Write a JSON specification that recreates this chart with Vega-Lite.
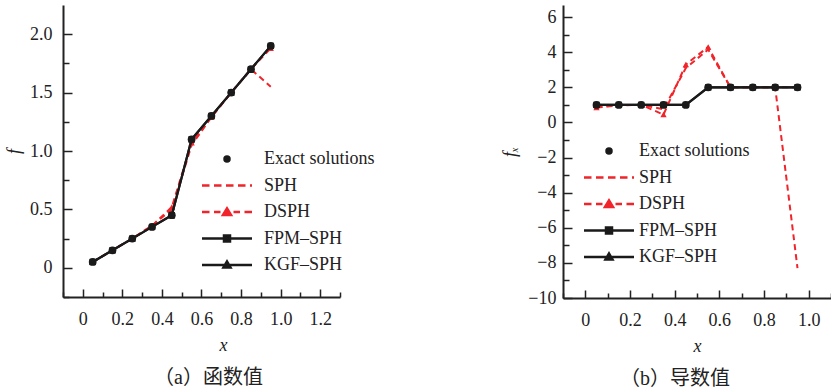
{
  "$schema": "https://vega.github.io/schema/vega-lite/v6.json",
  "padding": {"left": 5, "top": 5, "right": 0, "bottom": 0},
  "background": "white",
  "config": {
    "view": {"stroke": null},
    "axis": {
      "grid": true,
      "gridColor": "#222",
      "gridWidth": 1.5,
      "gridOpacity": 1,
      "ticks": true,
      "tickSize": -7,
      "tickOpacity": 0,
      "domainColor": "#222",
      "domainWidth": 2,
      "labelFont": "Liberation Serif, DejaVu Serif, serif",
      "labelFontSize": 18,
      "labelColor": "#222",
      "titleFont": "Liberation Serif, DejaVu Serif, serif",
      "titleFontSize": 18,
      "titleFontStyle": "italic",
      "titleFontWeight": "normal",
      "titleColor": "#222",
      "labelOverlap": false,
      "labelFlush": false
    },
    "legend": {
      "labelFont": "Liberation Serif, DejaVu Serif, serif",
      "labelFontSize": 18,
      "labelColor": "#222",
      "symbolStrokeWidth": 2.5,
      "symbolOpacity": 1,
      "symbolSize": 100,
      "padding": 0,
      "rowPadding": 8.5,
      "labelOffset": 30
    },
    "title": {"font": "Liberation Serif, Noto Sans CJK SC, serif", "fontSize": 20, "fontWeight": "normal", "color": "#222"}
  },
  "resolve": {
    "scale": {"fill": "independent", "stroke": "independent", "shape": "independent"},
    "legend": {"fill": "independent", "stroke": "independent", "shape": "independent"}
  },
  "data": {"values": [
    {"panel": "a", "series": "Exact solutions", "x": 0.05, "y": 0.05},
    {"panel": "a", "series": "Exact solutions", "x": 0.15, "y": 0.15},
    {"panel": "a", "series": "Exact solutions", "x": 0.25, "y": 0.25},
    {"panel": "a", "series": "Exact solutions", "x": 0.35, "y": 0.35},
    {"panel": "a", "series": "Exact solutions", "x": 0.45, "y": 0.45},
    {"panel": "a", "series": "Exact solutions", "x": 0.55, "y": 1.1},
    {"panel": "a", "series": "Exact solutions", "x": 0.65, "y": 1.3},
    {"panel": "a", "series": "Exact solutions", "x": 0.75, "y": 1.5},
    {"panel": "a", "series": "Exact solutions", "x": 0.85, "y": 1.7},
    {"panel": "a", "series": "Exact solutions", "x": 0.95, "y": 1.9},
    {"panel": "a", "series": "SPH", "x": 0.05, "y": 0.05},
    {"panel": "a", "series": "SPH", "x": 0.15, "y": 0.15},
    {"panel": "a", "series": "SPH", "x": 0.25, "y": 0.25},
    {"panel": "a", "series": "SPH", "x": 0.35, "y": 0.36},
    {"panel": "a", "series": "SPH", "x": 0.45, "y": 0.5},
    {"panel": "a", "series": "SPH", "x": 0.55, "y": 1.05},
    {"panel": "a", "series": "SPH", "x": 0.65, "y": 1.29},
    {"panel": "a", "series": "SPH", "x": 0.75, "y": 1.5},
    {"panel": "a", "series": "SPH", "x": 0.85, "y": 1.7},
    {"panel": "a", "series": "SPH", "x": 0.95, "y": 1.55},
    {"panel": "a", "series": "DSPH", "x": 0.05, "y": 0.05},
    {"panel": "a", "series": "DSPH", "x": 0.15, "y": 0.15},
    {"panel": "a", "series": "DSPH", "x": 0.25, "y": 0.25},
    {"panel": "a", "series": "DSPH", "x": 0.35, "y": 0.36},
    {"panel": "a", "series": "DSPH", "x": 0.45, "y": 0.52},
    {"panel": "a", "series": "DSPH", "x": 0.55, "y": 1.07},
    {"panel": "a", "series": "DSPH", "x": 0.65, "y": 1.29},
    {"panel": "a", "series": "DSPH", "x": 0.75, "y": 1.5},
    {"panel": "a", "series": "DSPH", "x": 0.85, "y": 1.7},
    {"panel": "a", "series": "DSPH", "x": 0.95, "y": 1.88},
    {"panel": "a", "series": "FPM-SPH", "x": 0.05, "y": 0.05},
    {"panel": "a", "series": "FPM-SPH", "x": 0.15, "y": 0.15},
    {"panel": "a", "series": "FPM-SPH", "x": 0.25, "y": 0.25},
    {"panel": "a", "series": "FPM-SPH", "x": 0.35, "y": 0.35},
    {"panel": "a", "series": "FPM-SPH", "x": 0.45, "y": 0.45},
    {"panel": "a", "series": "FPM-SPH", "x": 0.55, "y": 1.1},
    {"panel": "a", "series": "FPM-SPH", "x": 0.65, "y": 1.3},
    {"panel": "a", "series": "FPM-SPH", "x": 0.75, "y": 1.5},
    {"panel": "a", "series": "FPM-SPH", "x": 0.85, "y": 1.7},
    {"panel": "a", "series": "FPM-SPH", "x": 0.95, "y": 1.9},
    {"panel": "a", "series": "KGF-SPH", "x": 0.05, "y": 0.05},
    {"panel": "a", "series": "KGF-SPH", "x": 0.15, "y": 0.15},
    {"panel": "a", "series": "KGF-SPH", "x": 0.25, "y": 0.25},
    {"panel": "a", "series": "KGF-SPH", "x": 0.35, "y": 0.35},
    {"panel": "a", "series": "KGF-SPH", "x": 0.45, "y": 0.45},
    {"panel": "a", "series": "KGF-SPH", "x": 0.55, "y": 1.1},
    {"panel": "a", "series": "KGF-SPH", "x": 0.65, "y": 1.3},
    {"panel": "a", "series": "KGF-SPH", "x": 0.75, "y": 1.5},
    {"panel": "a", "series": "KGF-SPH", "x": 0.85, "y": 1.7},
    {"panel": "a", "series": "KGF-SPH", "x": 0.95, "y": 1.9},
    {"panel": "b", "series": "Exact solutions", "x": 0.05, "y": 1},
    {"panel": "b", "series": "Exact solutions", "x": 0.15, "y": 1},
    {"panel": "b", "series": "Exact solutions", "x": 0.25, "y": 1},
    {"panel": "b", "series": "Exact solutions", "x": 0.35, "y": 1},
    {"panel": "b", "series": "Exact solutions", "x": 0.45, "y": 1},
    {"panel": "b", "series": "Exact solutions", "x": 0.55, "y": 2},
    {"panel": "b", "series": "Exact solutions", "x": 0.65, "y": 2},
    {"panel": "b", "series": "Exact solutions", "x": 0.75, "y": 2},
    {"panel": "b", "series": "Exact solutions", "x": 0.85, "y": 2},
    {"panel": "b", "series": "Exact solutions", "x": 0.95, "y": 2},
    {"panel": "b", "series": "SPH", "x": 0.05, "y": 0.85},
    {"panel": "b", "series": "SPH", "x": 0.15, "y": 0.97},
    {"panel": "b", "series": "SPH", "x": 0.25, "y": 1.0},
    {"panel": "b", "series": "SPH", "x": 0.35, "y": 0.75},
    {"panel": "b", "series": "SPH", "x": 0.45, "y": 3.1},
    {"panel": "b", "series": "SPH", "x": 0.55, "y": 4.15},
    {"panel": "b", "series": "SPH", "x": 0.65, "y": 2.0},
    {"panel": "b", "series": "SPH", "x": 0.75, "y": 2.0},
    {"panel": "b", "series": "SPH", "x": 0.85, "y": 2.0},
    {"panel": "b", "series": "SPH", "x": 0.95, "y": -8.3},
    {"panel": "b", "series": "DSPH", "x": 0.05, "y": 0.85},
    {"panel": "b", "series": "DSPH", "x": 0.15, "y": 1.0},
    {"panel": "b", "series": "DSPH", "x": 0.25, "y": 1.0},
    {"panel": "b", "series": "DSPH", "x": 0.35, "y": 0.45},
    {"panel": "b", "series": "DSPH", "x": 0.45, "y": 3.3},
    {"panel": "b", "series": "DSPH", "x": 0.55, "y": 4.3},
    {"panel": "b", "series": "DSPH", "x": 0.65, "y": 2.0},
    {"panel": "b", "series": "DSPH", "x": 0.75, "y": 2.0},
    {"panel": "b", "series": "DSPH", "x": 0.85, "y": 2.0},
    {"panel": "b", "series": "DSPH", "x": 0.95, "y": 2.0},
    {"panel": "b", "series": "FPM-SPH", "x": 0.05, "y": 1},
    {"panel": "b", "series": "FPM-SPH", "x": 0.15, "y": 1},
    {"panel": "b", "series": "FPM-SPH", "x": 0.25, "y": 1},
    {"panel": "b", "series": "FPM-SPH", "x": 0.35, "y": 1},
    {"panel": "b", "series": "FPM-SPH", "x": 0.45, "y": 1},
    {"panel": "b", "series": "FPM-SPH", "x": 0.55, "y": 2},
    {"panel": "b", "series": "FPM-SPH", "x": 0.65, "y": 2},
    {"panel": "b", "series": "FPM-SPH", "x": 0.75, "y": 2},
    {"panel": "b", "series": "FPM-SPH", "x": 0.85, "y": 2},
    {"panel": "b", "series": "FPM-SPH", "x": 0.95, "y": 2},
    {"panel": "b", "series": "KGF-SPH", "x": 0.05, "y": 1},
    {"panel": "b", "series": "KGF-SPH", "x": 0.15, "y": 1},
    {"panel": "b", "series": "KGF-SPH", "x": 0.25, "y": 1},
    {"panel": "b", "series": "KGF-SPH", "x": 0.35, "y": 1},
    {"panel": "b", "series": "KGF-SPH", "x": 0.45, "y": 1},
    {"panel": "b", "series": "KGF-SPH", "x": 0.55, "y": 2},
    {"panel": "b", "series": "KGF-SPH", "x": 0.65, "y": 2},
    {"panel": "b", "series": "KGF-SPH", "x": 0.75, "y": 2},
    {"panel": "b", "series": "KGF-SPH", "x": 0.85, "y": 2},
    {"panel": "b", "series": "KGF-SPH", "x": 0.95, "y": 2}
  ]},
  "bounds": "flush",
  "spacing": 223,
  "hconcat": [
    {
      "width": 277,
      "height": 292,
      "title": {"text": "（a）函数值", "orient": "bottom", "dx": 7, "offset": 14},
      "transform": [{"filter": "datum.panel == 'a'"}],
      "encoding": {
        "x": {"field": "x", "type": "quantitative",
          "scale": {"domain": [-0.1, 1.3], "nice": false, "zero": false},
          "axis": {"title": "x", "titleX": 160, "titlePadding": 8, "labelPadding": 20,
            "values": [-0.1, 0, 0.1, 0.2, 0.3, 0.4, 0.5, 0.6, 0.7, 0.8, 0.9, 1.0, 1.1, 1.2, 1.3],
            "gridDash": {"condition": {"test": "round(datum.value*10) % 2 == 0", "value": [0, 284, 8, 1000]}, "value": [0, 287, 5, 1000]},
            "labelExpr": "(round(datum.value*10) % 2 == 0 && datum.value > -0.05 && datum.value < 1.25) ? (abs(datum.value) < 0.001 ? '0' : format(datum.value, '.1f')) : ''"}},
        "y": {"field": "y", "type": "quantitative",
          "scale": {"domain": [-0.25, 2.25], "nice": false, "zero": false},
          "axis": {"title": "f", "titlePadding": 6, "labelPadding": 18,
            "values": [-0.25, 0, 0.25, 0.5, 0.75, 1.0, 1.25, 1.5, 1.75, 2.0],
            "gridDash": {"condition": {"test": "round(datum.value*4) % 2 == 0", "value": [9, 1000]}, "value": [6, 1000]},
            "labelExpr": "(round(datum.value*4) % 2 == 0) ? (abs(datum.value) < 0.001 ? '0' : format(datum.value, '.1f')) : ''"}}
      },
      "layer": [
        {"transform": [{"filter": "datum.series == 'SPH'"}], "mark": {"type": "line", "color": "#f0242a", "strokeWidth": 2, "strokeDash": [6, 4]}, "encoding": {}},
        {"transform": [{"filter": "datum.series == 'DSPH'"}], "mark": {"type": "line", "color": "#f0242a", "strokeWidth": 2, "strokeDash": [6, 4]}, "encoding": {}},
        {"transform": [{"filter": "datum.series == 'DSPH'"}], "mark": {"type": "point", "shape": "triangle-up", "filled": true, "opacity": 1, "size": 40, "color": "#f0242a"}},
        {"transform": [{"filter": "datum.series == 'FPM-SPH'"}], "mark": {"type": "line", "color": "#1a1a1a", "strokeWidth": 2.2}, "encoding": {}},
        {"transform": [{"filter": "datum.series == 'KGF-SPH'"}], "mark": {"type": "line", "color": "#1a1a1a", "strokeWidth": 2.2}, "encoding": {}},
        {"transform": [{"filter": "datum.series == 'KGF-SPH'"}], "mark": {"type": "point", "shape": "triangle-up", "filled": true, "opacity": 1, "size": 45, "color": "#1a1a1a"}},
        {"transform": [{"filter": "datum.series == 'FPM-SPH'"}], "mark": {"type": "point", "shape": "square", "filled": true, "opacity": 1, "size": 40, "color": "#1a1a1a"}},
        {"transform": [{"filter": "datum.series == 'Exact solutions'"}], "mark": {"type": "point", "shape": "circle", "filled": true, "opacity": 1, "size": 60, "color": "#1a1a1a"}},
        {
          "transform": [{"filter": "datum.series == 'none'"}],
          "mark": {"type": "point", "opacity": 1, "size": 100, "strokeWidth": 2.5},
          "encoding": {
            "fill": {"field": "series", "type": "nominal",
              "scale": {"domain": ["Exact solutions", "SPH", "DSPH", "FPM-SPH", "KGF-SPH"], "range": ["#1a1a1a", "#f0242a", "#f0242a", "#1a1a1a", "#1a1a1a"]},
              "legend": {"orient": "none", "legendX": 155, "legendY": 145, "title": null, "labelOffset": 28, "labelExpr": "replace(datum.label, '-', '–')"}},
            "stroke": {"field": "series", "type": "nominal",
              "scale": {"domain": ["Exact solutions", "SPH", "DSPH", "FPM-SPH", "KGF-SPH"], "range": ["#1a1a1a", "#f0242a", "#f0242a", "#1a1a1a", "#1a1a1a"]},
              "legend": {"orient": "none", "legendX": 155, "legendY": 145, "title": null, "labelOffset": 28, "labelExpr": "replace(datum.label, '-', '–')"}},
            "shape": {"field": "series", "type": "nominal",
              "scale": {"domain": ["Exact solutions", "SPH", "DSPH", "FPM-SPH", "KGF-SPH"],
                "range": [
                  "M-0.5,0A0.5,0.5 0 1,0 0.5,0A0.5,0.5 0 1,0 -0.5,0Z",
                  "M-5,0H-3.5M-2.6,0H-1.1M-0.2,0H1.3M2.2,0H3.7M4.6,0H5",
                  "M-5,0H-3.5M-2.6,0H-1.3M1.3,0H2.6M3.5,0H5M-0.8,0.6L0,-0.7L0.8,0.6Z",
                  "M-5,0H5M-0.6,-0.6H0.6V0.6H-0.6Z",
                  "M-5,0H5M-0.7,0.5L0,-0.7L0.7,0.5Z"
                ]},
              "legend": {"orient": "none", "legendX": 155, "legendY": 145, "title": null, "labelOffset": 28, "labelExpr": "replace(datum.label, '-', '–')"}}
          }
        }
      ]
    },
    {
      "width": 268,
      "height": 293,
      "title": {"text": "（b）导数值", "orient": "bottom", "dx": -22, "offset": 14},
      "transform": [{"filter": "datum.panel == 'b'"}],
      "encoding": {
        "x": {"field": "x", "type": "quantitative",
          "scale": {"domain": [-0.1, 1.1], "nice": false, "zero": false},
          "axis": {"title": "x", "titlePadding": 8, "labelPadding": 20,
            "values": [-0.1, 0, 0.1, 0.2, 0.3, 0.4, 0.5, 0.6, 0.7, 0.8, 0.9, 1.0, 1.1],
            "gridDash": {"condition": {"test": "round(datum.value*10) % 2 == 0", "value": [0, 285, 8, 1000]}, "value": [0, 288, 5, 1000]},
            "labelExpr": "(round(datum.value*10) % 2 == 0 && datum.value > -0.05 && datum.value < 1.05) ? (abs(datum.value) < 0.001 ? '0' : format(datum.value, '.1f')) : ''"}},
        "y": {"field": "y", "type": "quantitative",
          "scale": {"domain": [-10, 6.69], "nice": false, "zero": false},
          "axis": {"title": "fₓ", "titlePadding": 8, "labelPadding": 14,
            "values": [-10, -9, -8, -7, -6, -5, -4, -3, -2, -1, 0, 1, 2, 3, 4, 5, 6],
            "gridDash": {"condition": {"test": "datum.value % 2 == 0", "value": [9, 1000]}, "value": [6, 1000]},
            "labelExpr": "(datum.value % 2 == 0) ? format(datum.value, 'd') : ''"}}
      },
      "layer": [
        {"transform": [{"filter": "datum.series == 'SPH'"}], "mark": {"type": "line", "color": "#f0242a", "strokeWidth": 2, "strokeDash": [6, 4]}, "encoding": {}},
        {"transform": [{"filter": "datum.series == 'DSPH'"}], "mark": {"type": "line", "color": "#f0242a", "strokeWidth": 2, "strokeDash": [6, 4]}, "encoding": {}},
        {"transform": [{"filter": "datum.series == 'DSPH'"}], "mark": {"type": "point", "shape": "triangle-up", "filled": true, "opacity": 1, "size": 40, "color": "#f0242a"}},
        {"transform": [{"filter": "datum.series == 'FPM-SPH'"}], "mark": {"type": "line", "color": "#1a1a1a", "strokeWidth": 2.2}, "encoding": {}},
        {"transform": [{"filter": "datum.series == 'KGF-SPH'"}], "mark": {"type": "line", "color": "#1a1a1a", "strokeWidth": 2.2}, "encoding": {}},
        {"transform": [{"filter": "datum.series == 'KGF-SPH'"}], "mark": {"type": "point", "shape": "triangle-up", "filled": true, "opacity": 1, "size": 45, "color": "#1a1a1a"}},
        {"transform": [{"filter": "datum.series == 'FPM-SPH'"}], "mark": {"type": "point", "shape": "square", "filled": true, "opacity": 1, "size": 40, "color": "#1a1a1a"}},
        {"transform": [{"filter": "datum.series == 'Exact solutions'"}], "mark": {"type": "point", "shape": "circle", "filled": true, "opacity": 1, "size": 60, "color": "#1a1a1a"}},
        {
          "transform": [{"filter": "datum.series == 'none'"}],
          "mark": {"type": "point", "opacity": 1, "size": 100, "strokeWidth": 2.5},
          "encoding": {
            "fill": {"field": "series", "type": "nominal",
              "scale": {"domain": ["Exact solutions", "SPH", "DSPH", "FPM-SPH", "KGF-SPH"], "range": ["#1a1a1a", "#f0242a", "#f0242a", "#1a1a1a", "#1a1a1a"]},
              "legend": {"orient": "none", "legendX": 37, "legendY": 137, "title": null, "labelOffset": 21, "labelExpr": "replace(datum.label, '-', '–')"}},
            "stroke": {"field": "series", "type": "nominal",
              "scale": {"domain": ["Exact solutions", "SPH", "DSPH", "FPM-SPH", "KGF-SPH"], "range": ["#1a1a1a", "#f0242a", "#f0242a", "#1a1a1a", "#1a1a1a"]},
              "legend": {"orient": "none", "legendX": 37, "legendY": 137, "title": null, "labelOffset": 21, "labelExpr": "replace(datum.label, '-', '–')"}},
            "shape": {"field": "series", "type": "nominal",
              "scale": {"domain": ["Exact solutions", "SPH", "DSPH", "FPM-SPH", "KGF-SPH"],
                "range": [
                  "M-0.5,0A0.5,0.5 0 1,0 0.5,0A0.5,0.5 0 1,0 -0.5,0Z",
                  "M-5,0H-3.5M-2.6,0H-1.1M-0.2,0H1.3M2.2,0H3.7M4.6,0H5",
                  "M-5,0H-3.5M-2.6,0H-1.3M1.3,0H2.6M3.5,0H5M-0.8,0.6L0,-0.7L0.8,0.6Z",
                  "M-5,0H5M-0.6,-0.6H0.6V0.6H-0.6Z",
                  "M-5,0H5M-0.7,0.5L0,-0.7L0.7,0.5Z"
                ]},
              "legend": {"orient": "none", "legendX": 37, "legendY": 137, "title": null, "labelOffset": 21, "labelExpr": "replace(datum.label, '-', '–')"}}
          }
        }
      ]
    }
  ]
}
